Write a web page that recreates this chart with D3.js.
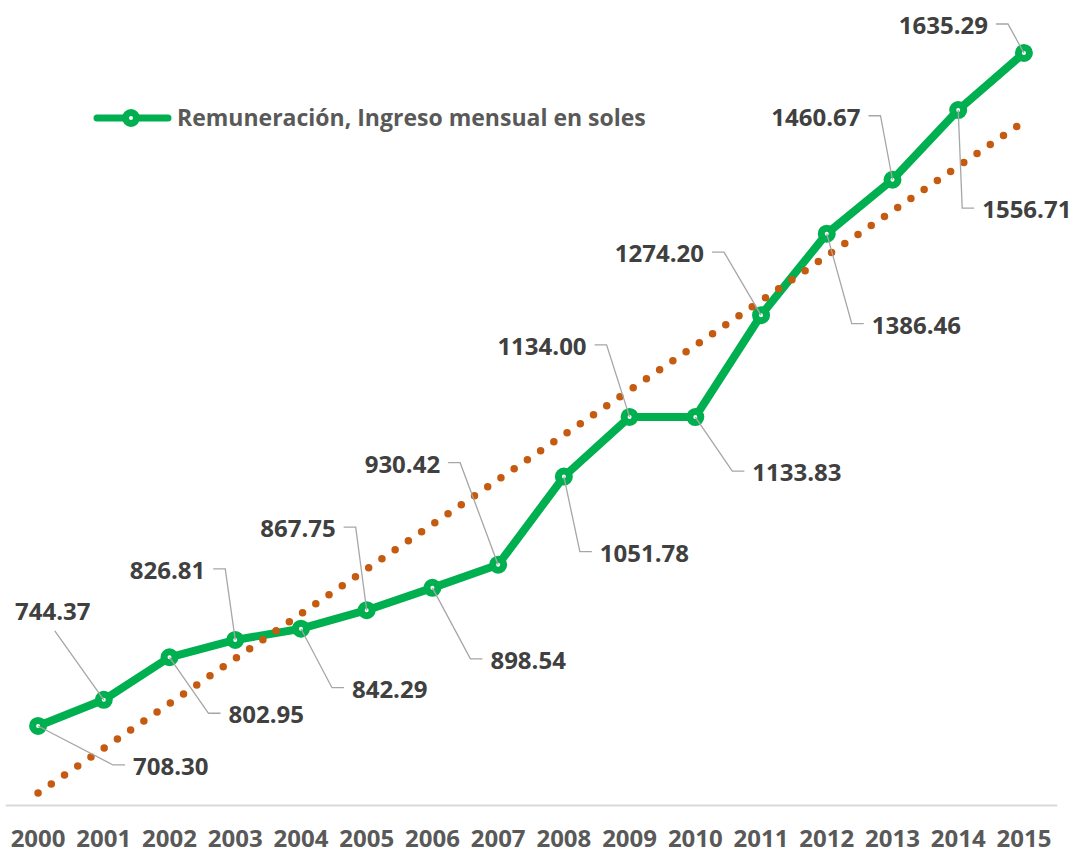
<!DOCTYPE html>
<html>
<head>
<meta charset="utf-8">
<script src="https://cdn.jsdelivr.net/npm/d3@7"></script>
<style>
  body { margin: 0; background: #fff; }
  svg { display: block; }
</style>
</head>
<body>
<svg id="chart" width="1078" height="854"></svg>
<script>
const years = ["2000","2001","2002","2003","2004","2005","2006","2007",
               "2008","2009","2010","2011","2012","2013","2014","2015"];
const income = [708.30, 744.37, 802.95, 826.81, 842.29, 867.75, 898.54, 930.42,
                1051.78, 1134.00, 1133.83, 1274.20, 1386.46, 1460.67, 1556.71, 1635.29];
const seriesName = "Remuneración, Ingreso mensual en soles";

// leader line elbow, offset from the point, and where the label sits (r = right, l = left, a = above)
const labelOffsets = [
  [75, 39, "r"], [-49, -69, "a"], [39, 56, "r"], [-10, -71, "l"],
  [31, 59, "r"], [-11, -83, "l"], [38, 71, "r"], [-38, -102, "l"],
  [16, 75, "r"], [-23, -72, "l"], [37, 54, "r"], [-37, -63, "l"],
  [25, 90, "r"], [-12, -64, "l"], [4, 98, "r"], [-16, -29, "l"]
];

const green = "#00b050", orange = "#c55a11", grey = "#a6a6a6";
const labelFont = "bold 24px 'Open Sans'";

const svg = d3.select("#chart");

const x = d3.scaleBand().domain(years).range([5.2, 1056.8]);
const xc = d => x(d) + x.bandwidth() / 2;
const y = d3.scaleLinear().domain([600, 1700]).range([804.6, 6]);

// category axis
const axis = svg.append("g")
  .attr("transform", "translate(0,805)")
  .call(d3.axisBottom(x).tickSize(0).tickSizeOuter(0));
axis.select(".domain").attr("stroke", "#d9d9d9").attr("stroke-width", 2);
axis.selectAll("text")
  .attr("y", 42).attr("dy", 0)
  .attr("fill", "#595959")
  .style("font", labelFont);

const pts = years.map((yr, i) => ({ yr, v: income[i], i }));

// series line
svg.append("path")
  .datum(pts)
  .attr("fill", "none")
  .attr("stroke", green)
  .attr("stroke-width", 8)
  .attr("stroke-linejoin", "round")
  .attr("d", d3.line().x(d => xc(d.yr)).y(d => y(d.v)));

svg.append("g").selectAll("circle")
  .data(pts)
  .join("circle")
  .attr("cx", d => xc(d.yr))
  .attr("cy", d => y(d.v))
  .attr("r", 5.5)
  .attr("fill", "#fff")
  .attr("stroke", green)
  .attr("stroke-width", 7);

// linear trend (least squares)
const idx = d3.range(income.length);
const mx = d3.mean(idx), my = d3.mean(income);
const slope = d3.sum(income, (v, i) => (i - mx) * (v - my)) / d3.sum(idx, i => (i - mx) ** 2);
const icpt = my - slope * mx;
svg.append("path")
  .datum([0, income.length - 1])
  .attr("fill", "none")
  .attr("stroke", orange)
  .attr("stroke-width", 7.5)
  .attr("stroke-linecap", "round")
  .attr("stroke-dasharray", "0 16")
  .attr("d", d3.line().x(i => xc(years[i])).y(i => y(icpt + slope * i)));

// data labels with leader lines
const lab = svg.append("g");
pts.forEach(d => {
  const px = xc(d.yr), py = y(d.v);
  const [dx, dy, side] = labelOffsets[d.i];
  const ex = px + dx, ey = py + dy;
  let path = `M${px},${py}L${ex},${ey}`;
  let tx, anchor, ty;
  if (side === "r") { path += `h12`; tx = ex + 20; anchor = "start"; ty = ey + 10; }
  else if (side === "l") { path += `h-12`; tx = ex - 20; anchor = "end"; ty = ey + 10; }
  else { tx = ex - 2; anchor = "middle"; ty = ey - 11; }
  lab.append("path")
    .attr("d", path)
    .attr("fill", "none")
    .attr("stroke", grey)
    .attr("stroke-width", 1.3);
  lab.append("text")
    .attr("x", tx).attr("y", ty)
    .attr("text-anchor", anchor)
    .attr("fill", "#404040")
    .style("font", labelFont)
    .text(d3.format(".2f")(d.v));
});

// legend
const lg = svg.append("g");
lg.append("line")
  .attr("x1", 97).attr("x2", 168).attr("y1", 118).attr("y2", 118)
  .attr("stroke", green).attr("stroke-width", 7).attr("stroke-linecap", "round");
lg.append("circle")
  .attr("cx", 131).attr("cy", 118).attr("r", 5.5)
  .attr("fill", "#fff").attr("stroke", green).attr("stroke-width", 7);
lg.append("text")
  .attr("x", 177).attr("y", 126)
  .attr("fill", "#595959")
  .style("font", "bold 23px 'Open Sans'")
  .text(seriesName);
</script>
</body>
</html>
